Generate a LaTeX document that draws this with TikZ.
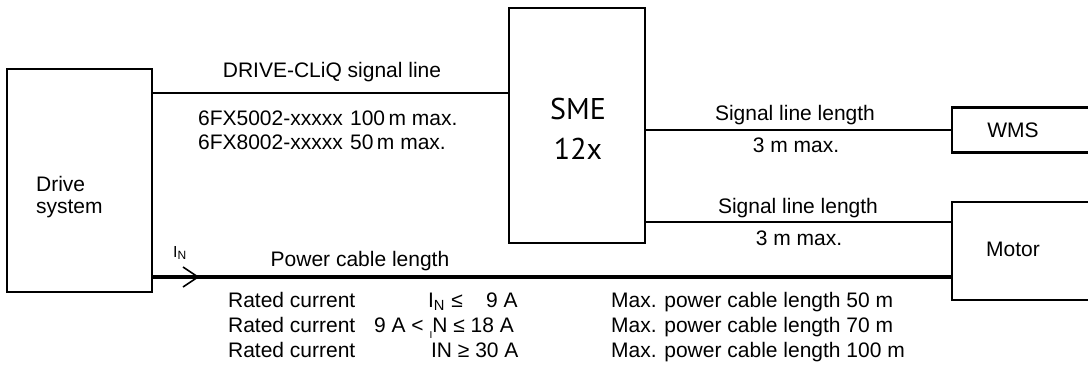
\documentclass[tikz,border=0pt]{standalone}
\usepackage{fontspec}
\setmainfont{Liberation Sans}
\newfontfamily\smefont{PT Sans}
\usetikzlibrary{positioning}

\begin{document}
\begin{tikzpicture}[x=0.5pt, y=-0.5pt, line width=1.1pt,
    unit/.style={draw, line width=1.2pt, inner sep=0pt},
    txt/.style={inner sep=0pt, font=\fontsize{10.5}{12.6}\selectfont}]
  \useasboundingbox (0,0) rectangle (1088,377);

  % units
  \node[unit, minimum width=72.5pt, minimum height=111.5pt] (drive) at (79.5,180.5) {};
  \node[unit, minimum width=68pt, minimum height=117.5pt] (sme) at (577,125.5) {};
  \node[unit, minimum width=70pt, minimum height=22.5pt] (wms) at (1022,130) {};
  \node[unit, minimum width=70pt, minimum height=49pt] (motor) at (1022,251) {};

  \node[txt, anchor=west, align=left, font=\fontsize{10.5}{11}\selectfont] (drivetxt) at (35,197) {Drive\\system};
  \node[txt, align=center, font=\smefont\fontsize{15}{20}\selectfont] (smetxt) at (578,129) {SME\\12x};
  \node[txt, anchor=base] (wmstxt) at (1013,137) {WMS};
  \node[txt, anchor=base] (motortxt) at (1013,256) {Motor};

  % lines
  \coordinate (cliq) at (509,93);
  \coordinate (msig) at (952,222);
  \coordinate (pwr) at (952,277);
  \coordinate (tip) at (198,277);
  \draw (drive.east |- cliq) -- (cliq);
  \draw (sme.east |- wms.west) -- (wms.west);
  \draw (sme.east |- msig) -- (msig);
  \draw[line width=2.3pt] (drive.east |- pwr) -- (pwr);
  \draw[line width=0.8pt] ([shift={(-15,-10)}]tip) -- (tip) -- ([shift={(-15,10)}]tip);

  % DRIVE-CLiQ
  \node[txt, anchor=base] (cliqlbl) at (332,77) {DRIVE-CLiQ signal line};
  \node[txt, anchor=base west] (type1) at (197,125) {6FX5002-xxxxx};
  \node[txt, anchor=base west] (len1) at (349,125) {100\,m max.};
  \node[txt, anchor=base west] (type2) at (197,149) {6FX8002-xxxxx};
  \node[txt, anchor=base west] (len2) at (349,149) {50\,m max.};

  % signal lines
  \node[txt, anchor=base] (wmslbl) at (795,120) {Signal line length};
  \node[txt, anchor=base] (wmsmax) at (796,152) {3 m max.};
  \node[txt, anchor=base] (motlbl) at (798,213) {Signal line length};
  \node[txt, anchor=base] (motmax) at (799,245) {3 m max.};

  % power cable
  \node[txt, anchor=base west, font=\fontsize{8}{9}\selectfont] (inlbl) at (172,257) {I\textsubscript{N}};
  \node[txt, anchor=base] (pwrlbl) at (360,266) {Power cable length};

  \node[txt, anchor=base west] (rc1) at (227,307) {Rated current};
  \node[txt, anchor=base west] (rc2) at (227,332) {Rated current};
  \node[txt, anchor=base west] (rc3) at (227,357) {Rated current};
  \node[txt, anchor=base west] (cur1) at (427,307) {I\textsubscript{N} ≤};
  \node[txt, anchor=base west] (amp1) at (485,307) {9 A};
  \node[txt, anchor=base west] (cur2) at (373,332) {9 A < \raisebox{-3pt}{\fontsize{5}{6}\selectfont I}N ≤ 18 A};
  \node[txt, anchor=base west] (cur3) at (430,357) {IN ≥ 30 A};
  \node[txt, anchor=base west] (max1) at (610,307) {Max. power cable length 50 m};
  \node[txt, anchor=base west] (max2) at (610,332) {Max. power cable length 70 m};
  \node[txt, anchor=base west] (max3) at (610,357) {Max. power cable length 100 m};
\end{tikzpicture}
\end{document}
